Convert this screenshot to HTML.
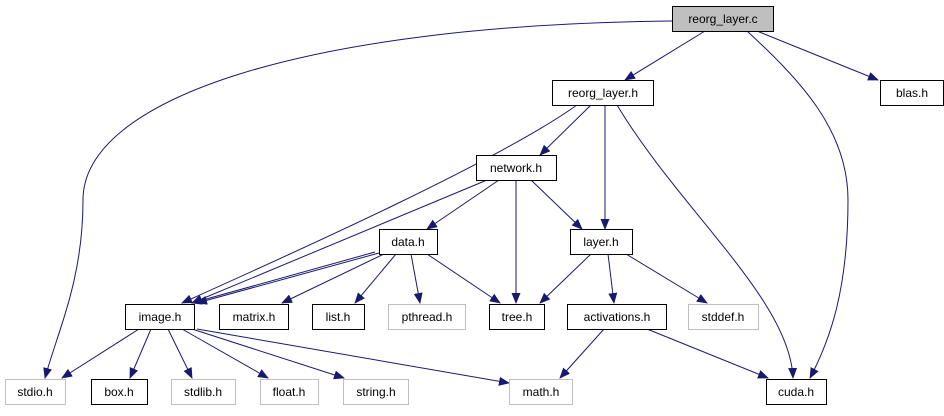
<!DOCTYPE html>
<html><head><meta charset="utf-8"><style>
body{margin:0;background:#fff;width:944px;height:411px;overflow:hidden}
svg text{font-family:"Liberation Sans",sans-serif;font-size:12px;text-anchor:middle}
</style></head><body>
<svg width="944" height="411" viewBox="0 0 944 411">
<defs><marker id="a" markerWidth="11" markerHeight="9" refX="10" refY="4.5" orient="auto" markerUnits="userSpaceOnUse"><path d="M0,0 L11,4.5 L0,9 z" fill="#191970"/></marker></defs>
<g fill="none" stroke="#191970" stroke-width="1" marker-end="url(#a)">
<path d="M672,21 C300,25 83,100 83,200 C83,280 58,330 45,378"/>
<path d="M705,31 L625,80"/>
<path d="M747,31 C800,80 848,130 848,200 C848,290 830,340 810,378"/>
<path d="M757,31 L878,80"/>
<path d="M577,105 C500,160 300,250 182,303"/>
<path d="M591,105 L540,155"/>
<path d="M605,105 L605,229"/>
<path d="M617,105 C680,210 790,300 793,378"/>
<path d="M487,180 L192,303"/>
<path d="M499,180 L427,229"/>
<path d="M516,180 L516,303"/>
<path d="M531,180 L582,229"/>
<path d="M379,253 L197,303"/>
<path d="M375,252 L192,303"/>
<path d="M384,254 L282,303"/>
<path d="M396,254 L355,303"/>
<path d="M411,254 L420,303"/>
<path d="M427,254 L500,303"/>
<path d="M591,254 L540,303"/>
<path d="M608,254 L614,303"/>
<path d="M626,254 L707,303"/>
<path d="M139,329 L62,378"/>
<path d="M151,329 L130,378"/>
<path d="M168,329 L192,378"/>
<path d="M182,329 L268,378"/>
<path d="M192,329 L344,378"/>
<path d="M197,329 L509,383"/>
<path d="M604,329 L560,378"/>
<path d="M647,329 L768,378"/>
</g>
<g stroke-width="1">
<rect x="672.5" y="6.5" width="101" height="25" fill="#bfbfbf" stroke="#000"/>
<rect x="552.5" y="80.5" width="101" height="25" fill="#fff" stroke="#000"/>
<rect x="880.5" y="80.5" width="63" height="25" fill="#fff" stroke="#000"/>
<rect x="476.5" y="155.5" width="80" height="25" fill="#fff" stroke="#000"/>
<rect x="379.5" y="229.5" width="58" height="25" fill="#fff" stroke="#000"/>
<rect x="570.5" y="229.5" width="62" height="25" fill="#fff" stroke="#000"/>
<rect x="125.5" y="304.5" width="69" height="25" fill="#fff" stroke="#000"/>
<rect x="219.5" y="304.5" width="69" height="25" fill="#fff" stroke="#000"/>
<rect x="312.5" y="304.5" width="52" height="25" fill="#fff" stroke="#000"/>
<rect x="388.5" y="304.5" width="77" height="25" fill="#fff" stroke="#bfbfbf"/>
<rect x="489.5" y="304.5" width="55" height="25" fill="#fff" stroke="#000"/>
<rect x="567.5" y="304.5" width="99" height="25" fill="#fff" stroke="#000"/>
<rect x="688.5" y="304.5" width="70" height="25" fill="#fff" stroke="#bfbfbf"/>
<rect x="5.5" y="379.5" width="60" height="25" fill="#fff" stroke="#bfbfbf"/>
<rect x="91.5" y="379.5" width="56" height="25" fill="#fff" stroke="#000"/>
<rect x="171.5" y="379.5" width="64" height="25" fill="#fff" stroke="#bfbfbf"/>
<rect x="260.5" y="379.5" width="58" height="25" fill="#fff" stroke="#bfbfbf"/>
<rect x="343.5" y="379.5" width="65" height="25" fill="#fff" stroke="#bfbfbf"/>
<rect x="509.5" y="379.5" width="63" height="25" fill="#fff" stroke="#bfbfbf"/>
<rect x="766.5" y="379.5" width="60" height="25" fill="#fff" stroke="#000"/>
</g>
<g fill="#000">
<text x="723" y="23">reorg_layer.c</text>
<text x="603" y="97">reorg_layer.h</text>
<text x="912" y="97">blas.h</text>
<text x="516" y="172">network.h</text>
<text x="408" y="246">data.h</text>
<text x="601" y="246">layer.h</text>
<text x="160" y="321">image.h</text>
<text x="254" y="321">matrix.h</text>
<text x="338" y="321">list.h</text>
<text x="427" y="321">pthread.h</text>
<text x="517" y="321">tree.h</text>
<text x="617" y="321">activations.h</text>
<text x="723" y="321">stddef.h</text>
<text x="35" y="396">stdio.h</text>
<text x="119" y="396">box.h</text>
<text x="203" y="396">stdlib.h</text>
<text x="289" y="396">float.h</text>
<text x="376" y="396">string.h</text>
<text x="541" y="396">math.h</text>
<text x="796" y="396">cuda.h</text>
</g>
</svg>
</body></html>
